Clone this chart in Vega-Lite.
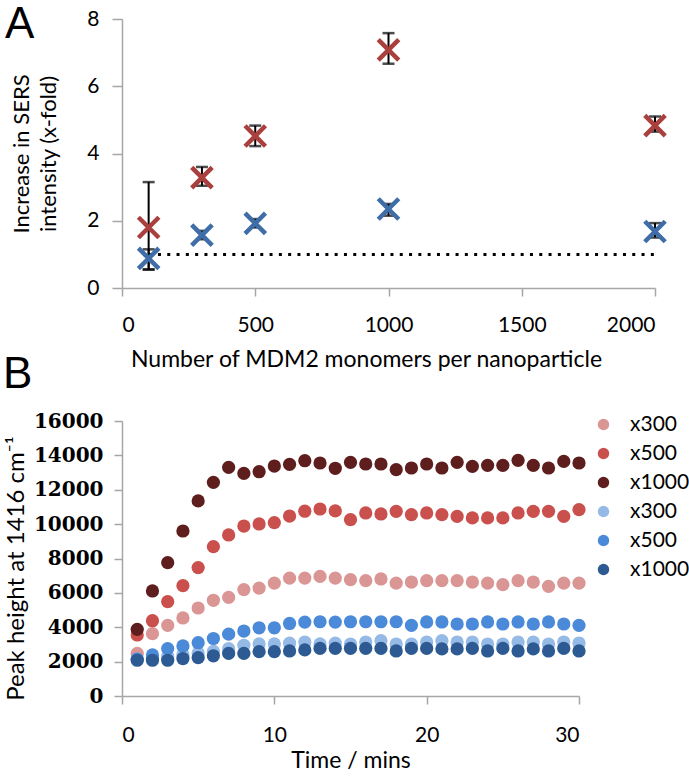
{
  "$schema": "https://vega.github.io/schema/vega-lite/v6.json",
  "background": "white",
  "padding": {"left": 3, "top": 3, "right": 5, "bottom": 5},
  "bounds": "flush",
  "spacing": 133,
  "resolve": {"scale": {"color": "independent"}, "legend": {"color": "independent"}},
  "config": {
    "view": {"stroke": null},
    "font": "Lato",
    "axis": {
      "grid": false,
      "domainColor": "#a6a6a6",
      "tickColor": "#a6a6a6",
      "domainWidth": 1.5,
      "tickWidth": 1.5,
      "labelColor": "black",
      "titleColor": "black",
      "labelFont": "Lato",
      "titleFont": "Lato",
      "titleFontWeight": "normal"
    },
    "legend": {"labelFont": "Lato", "labelColor": "black"}
  },
  "vconcat": [
    {
      "width": 533,
      "height": 269,
      "title": {"text": "A", "anchor": "start", "frame": "group", "dx": -117, "dy": 43, "fontSize": 44, "fontWeight": "normal", "font": "Liberation Sans", "color": "black"},
      "data": {
        "values": [
          {"n": 100, "s": "red", "v": 1.8, "lo": 0.55, "hi": 3.15},
          {"n": 300, "s": "red", "v": 3.28, "lo": 3.04, "hi": 3.6},
          {"n": 500, "s": "red", "v": 4.52, "lo": 4.22, "hi": 4.83},
          {"n": 1000, "s": "red", "v": 7.08, "lo": 6.67, "hi": 7.58},
          {"n": 2000, "s": "red", "v": 4.83, "lo": 4.65, "hi": 5.1},
          {"n": 100, "s": "blue", "v": 0.88, "lo": 0.55, "hi": 1.15},
          {"n": 300, "s": "blue", "v": 1.57, "lo": 1.45, "hi": 1.7},
          {"n": 500, "s": "blue", "v": 1.92, "lo": 1.8, "hi": 2.05},
          {"n": 1000, "s": "blue", "v": 2.35, "lo": 2.15, "hi": 2.5},
          {"n": 2000, "s": "blue", "v": 1.68, "lo": 1.5, "hi": 1.93}
        ]
      },
      "layer": [
        {
          "data": {"values": [{"n": 100, "n2": 2000, "v": 1}]},
          "mark": {"type": "rule", "strokeDash": [3, 6.3], "strokeWidth": 3, "color": "black"},
          "encoding": {
            "x": {"field": "n", "type": "quantitative", "scale": {"domain": [0, 2000]},
              "axis": {"values": [0, 500, 1000, 1500, 2000], "format": "d", "tickSize": 8, "labelPadding": 18, "labelFontSize": 21, "title": "Number of MDM2 monomers per nanoparticle", "titleFontSize": 23, "titlePadding": 13, "titleX": 244, "titleAnchor": "middle"}},
            "x2": {"field": "n2"},
            "y": {"field": "v", "type": "quantitative", "scale": {"domain": [0, 8]},
              "axis": {"values": [0, 2, 4, 6, 8], "tickSize": 10, "labelPadding": 13, "labelFontSize": 21, "title": ["Increase in SERS", "intensity (x-fold)"], "titleFontSize": 22, "titleLineHeight": 27, "titlePadding": 26}}
          }
        },
        {
          "mark": {"type": "errorbar", "ticks": {"size": 12, "thickness": 2.5, "color": "black"}, "rule": {"strokeWidth": 2, "color": "black"}, "color": "black"},
          "encoding": {
            "x": {"field": "n", "type": "quantitative"},
            "y": {"field": "lo", "type": "quantitative", "title": ["Increase in SERS", "intensity (x-fold)"]},
            "y2": {"field": "hi"}
          }
        },
        {
          "mark": {"type": "point", "shape": "M-1,-1L1,1M1,-1L-1,1", "filled": false, "strokeWidth": 4.5, "size": 420, "opacity": 1},
          "encoding": {
            "x": {"field": "n", "type": "quantitative"},
            "y": {"field": "v", "type": "quantitative", "title": ["Increase in SERS", "intensity (x-fold)"]},
            "color": {"field": "s", "type": "nominal", "scale": {"domain": ["red", "blue"], "range": ["#A9403D", "#3E6DA8"]}, "legend": null}
          }
        }
      ]
    },
    {
      "width": 457,
      "height": 275,
      "title": {"text": "B", "anchor": "start", "frame": "group", "dx": -119, "dy": 0, "offset": 14, "fontSize": 44, "fontWeight": "normal", "font": "Liberation Sans", "color": "black"},
      "data": {
        "values": [
          {"t":1,"s":"r300","v":2480},{"t":2,"s":"r300","v":3625},{"t":3,"s":"r300","v":4110},{"t":4,"s":"r300","v":4540},{"t":5,"s":"r300","v":5120},{"t":6,"s":"r300","v":5570},{"t":7,"s":"r300","v":5740},{"t":8,"s":"r300","v":6190},{"t":9,"s":"r300","v":6280},{"t":10,"s":"r300","v":6570},{"t":11,"s":"r300","v":6860},{"t":12,"s":"r300","v":6860},{"t":13,"s":"r300","v":6960},{"t":14,"s":"r300","v":6860},{"t":15,"s":"r300","v":6770},{"t":16,"s":"r300","v":6710},{"t":17,"s":"r300","v":6810},{"t":18,"s":"r300","v":6570},{"t":19,"s":"r300","v":6630},{"t":20,"s":"r300","v":6710},{"t":21,"s":"r300","v":6710},{"t":22,"s":"r300","v":6710},{"t":23,"s":"r300","v":6630},{"t":24,"s":"r300","v":6570},{"t":25,"s":"r300","v":6480},{"t":26,"s":"r300","v":6710},{"t":27,"s":"r300","v":6630},{"t":28,"s":"r300","v":6380},{"t":29,"s":"r300","v":6570},{"t":30,"s":"r300","v":6570},
          {"t":1,"s":"r500","v":3550},{"t":2,"s":"r500","v":4380},{"t":3,"s":"r500","v":5490},{"t":4,"s":"r500","v":6420},{"t":5,"s":"r500","v":7470},{"t":6,"s":"r500","v":8690},{"t":7,"s":"r500","v":9370},{"t":8,"s":"r500","v":9890},{"t":9,"s":"r500","v":10010},{"t":10,"s":"r500","v":10090},{"t":11,"s":"r500","v":10470},{"t":12,"s":"r500","v":10750},{"t":13,"s":"r500","v":10880},{"t":14,"s":"r500","v":10770},{"t":15,"s":"r500","v":10260},{"t":16,"s":"r500","v":10650},{"t":17,"s":"r500","v":10590},{"t":18,"s":"r500","v":10745},{"t":19,"s":"r500","v":10550},{"t":20,"s":"r500","v":10650},{"t":21,"s":"r500","v":10550},{"t":22,"s":"r500","v":10450},{"t":23,"s":"r500","v":10360},{"t":24,"s":"r500","v":10360},{"t":25,"s":"r500","v":10360},{"t":26,"s":"r500","v":10650},{"t":27,"s":"r500","v":10745},{"t":28,"s":"r500","v":10745},{"t":29,"s":"r500","v":10450},{"t":30,"s":"r500","v":10840},
          {"t":1,"s":"r1000","v":3880},{"t":2,"s":"r1000","v":6110},{"t":3,"s":"r1000","v":7760},{"t":4,"s":"r1000","v":9600},{"t":5,"s":"r1000","v":11350},{"t":6,"s":"r1000","v":12430},{"t":7,"s":"r1000","v":13300},{"t":8,"s":"r1000","v":12950},{"t":9,"s":"r1000","v":13050},{"t":10,"s":"r1000","v":13380},{"t":11,"s":"r1000","v":13480},{"t":12,"s":"r1000","v":13690},{"t":13,"s":"r1000","v":13556},{"t":14,"s":"r1000","v":13250},{"t":15,"s":"r1000","v":13595},{"t":16,"s":"r1000","v":13498},{"t":17,"s":"r1000","v":13498},{"t":18,"s":"r1000","v":13168},{"t":19,"s":"r1000","v":13265},{"t":20,"s":"r1000","v":13498},{"t":21,"s":"r1000","v":13265},{"t":22,"s":"r1000","v":13595},{"t":23,"s":"r1000","v":13362},{"t":24,"s":"r1000","v":13420},{"t":25,"s":"r1000","v":13420},{"t":26,"s":"r1000","v":13710},{"t":27,"s":"r1000","v":13420},{"t":28,"s":"r1000","v":13265},{"t":29,"s":"r1000","v":13650},{"t":30,"s":"r1000","v":13556},
          {"t":1,"s":"b300","v":2150},{"t":2,"s":"b300","v":2200},{"t":3,"s":"b300","v":2300},{"t":4,"s":"b300","v":2400},{"t":5,"s":"b300","v":2500},{"t":6,"s":"b300","v":2600},{"t":7,"s":"b300","v":2750},{"t":8,"s":"b300","v":2950},{"t":9,"s":"b300","v":3030},{"t":10,"s":"b300","v":3030},{"t":11,"s":"b300","v":3080},{"t":12,"s":"b300","v":3140},{"t":13,"s":"b300","v":3030},{"t":14,"s":"b300","v":3080},{"t":15,"s":"b300","v":3025},{"t":16,"s":"b300","v":3142},{"t":17,"s":"b300","v":3218},{"t":18,"s":"b300","v":3025},{"t":19,"s":"b300","v":3025},{"t":20,"s":"b300","v":3142},{"t":21,"s":"b300","v":3218},{"t":22,"s":"b300","v":3142},{"t":23,"s":"b300","v":3142},{"t":24,"s":"b300","v":3025},{"t":25,"s":"b300","v":3025},{"t":26,"s":"b300","v":3142},{"t":27,"s":"b300","v":3142},{"t":28,"s":"b300","v":3025},{"t":29,"s":"b300","v":3142},{"t":30,"s":"b300","v":3084},
          {"t":1,"s":"b500","v":2150},{"t":2,"s":"b500","v":2390},{"t":3,"s":"b500","v":2760},{"t":4,"s":"b500","v":2910},{"t":5,"s":"b500","v":3100},{"t":6,"s":"b500","v":3345},{"t":7,"s":"b500","v":3600},{"t":8,"s":"b500","v":3780},{"t":9,"s":"b500","v":3970},{"t":10,"s":"b500","v":3970},{"t":11,"s":"b500","v":4220},{"t":12,"s":"b500","v":4300},{"t":13,"s":"b500","v":4320},{"t":14,"s":"b500","v":4300},{"t":15,"s":"b500","v":4320},{"t":16,"s":"b500","v":4320},{"t":17,"s":"b500","v":4320},{"t":18,"s":"b500","v":4320},{"t":19,"s":"b500","v":4112},{"t":20,"s":"b500","v":4308},{"t":21,"s":"b500","v":4308},{"t":22,"s":"b500","v":4189},{"t":23,"s":"b500","v":4189},{"t":24,"s":"b500","v":4308},{"t":25,"s":"b500","v":4189},{"t":26,"s":"b500","v":4308},{"t":27,"s":"b500","v":4189},{"t":28,"s":"b500","v":4308},{"t":29,"s":"b500","v":4189},{"t":30,"s":"b500","v":4112},
          {"t":1,"s":"b1000","v":2080},{"t":2,"s":"b1000","v":2080},{"t":3,"s":"b1000","v":2080},{"t":4,"s":"b1000","v":2180},{"t":5,"s":"b1000","v":2230},{"t":6,"s":"b1000","v":2340},{"t":7,"s":"b1000","v":2480},{"t":8,"s":"b1000","v":2480},{"t":9,"s":"b1000","v":2580},{"t":10,"s":"b1000","v":2580},{"t":11,"s":"b1000","v":2620},{"t":12,"s":"b1000","v":2680},{"t":13,"s":"b1000","v":2770},{"t":14,"s":"b1000","v":2770},{"t":15,"s":"b1000","v":2770},{"t":16,"s":"b1000","v":2770},{"t":17,"s":"b1000","v":2770},{"t":18,"s":"b1000","v":2620},{"t":19,"s":"b1000","v":2770},{"t":20,"s":"b1000","v":2770},{"t":21,"s":"b1000","v":2740},{"t":22,"s":"b1000","v":2740},{"t":23,"s":"b1000","v":2770},{"t":24,"s":"b1000","v":2620},{"t":25,"s":"b1000","v":2770},{"t":26,"s":"b1000","v":2620},{"t":27,"s":"b1000","v":2740},{"t":28,"s":"b1000","v":2620},{"t":29,"s":"b1000","v":2770},{"t":30,"s":"b1000","v":2620}
        ]
      },
      "mark": {"type": "circle", "size": 175, "opacity": 1},
      "encoding": {
        "x": {"field": "t", "type": "quantitative", "scale": {"domain": [0, 30]},
          "axis": {"values": [0, 10, 20, 30], "tickSize": 8, "labelPadding": 20, "labelFontSize": 21, "title": "Time / mins", "titleFontSize": 23, "titlePadding": 4}},
        "y": {"field": "v", "type": "quantitative", "scale": {"domain": [0, 16000]},
          "axis": {"values": [0, 2000, 4000, 6000, 8000, 10000, 12000, 14000, 16000], "format": "d", "tickSize": 8, "labelPadding": 11, "labelFont": "DejaVu Serif", "labelFontWeight": "bold", "labelFontSize": 20, "title": "Peak height at 1416 cm⁻¹", "titleFontSize": 24, "titlePadding": 5, "titleY": 147, "titleAnchor": "middle"}},
        "color": {"field": "s", "type": "nominal", "sort": null,
          "scale": {"domain": ["r300", "r500", "r1000", "b300", "b500", "b1000"], "range": ["#DA9694", "#C9504C", "#5E1E1E", "#95BAE6", "#4B8AD8", "#2D5A92"]},
          "legend": {"title": null, "labelExpr": "'x' + slice(datum.label, 1)", "orient": "none", "legendX": 471, "legendY": -7, "labelFontSize": 21, "symbolSize": 130, "symbolType": "circle", "symbolOpacity": 1, "symbolStrokeWidth": 0, "rowPadding": 7, "labelOffset": 16}}
      }
    }
  ]
}
